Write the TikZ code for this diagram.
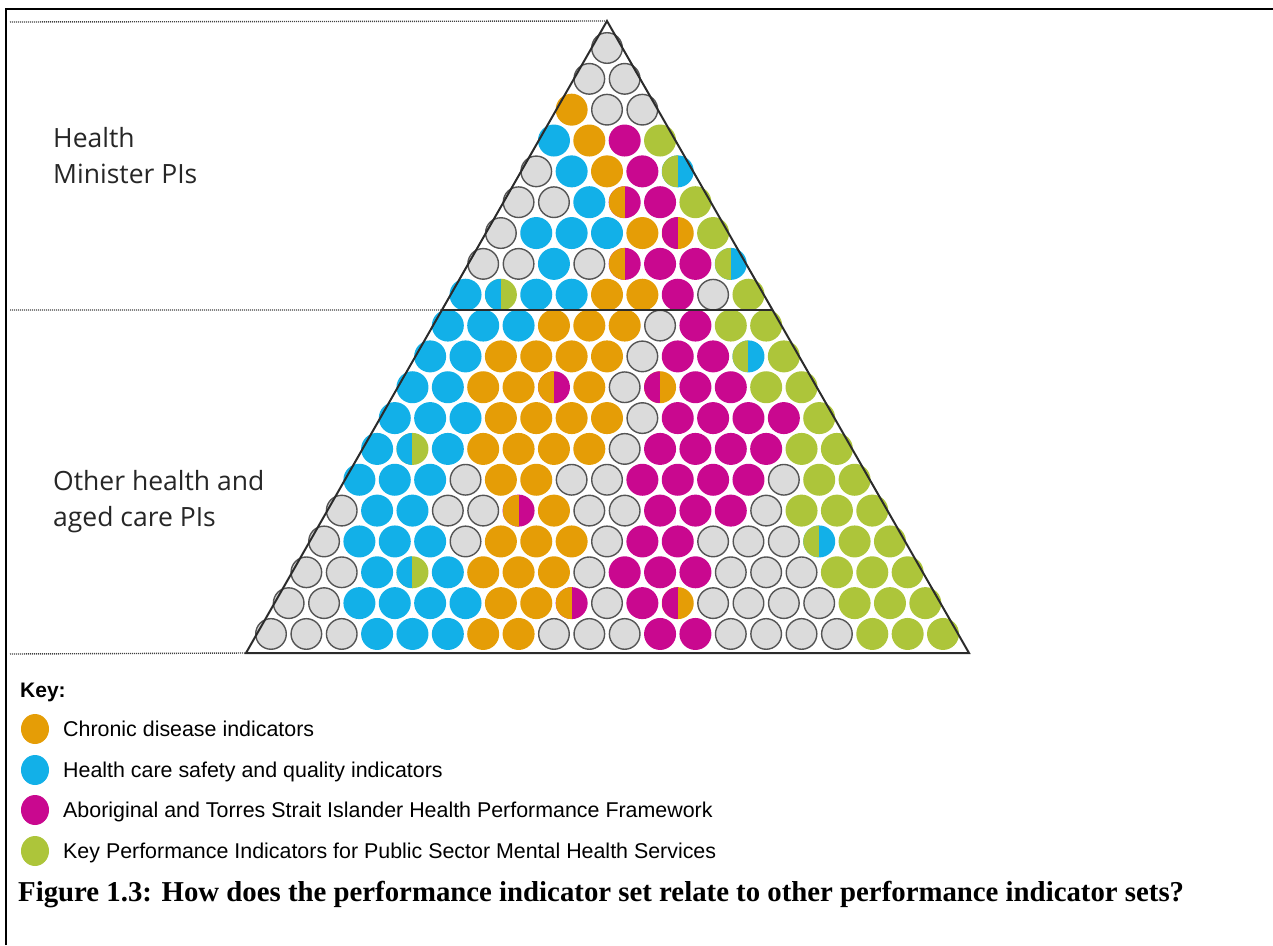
\documentclass[tikz,border=0pt]{standalone}
\usepackage{fontspec}
\setmainfont{Liberation Serif}
\newfontfamily\labelfont{Open Sans}
\newfontfamily\keyfont{Liberation Sans}
\usetikzlibrary{calc,shapes.geometric}

\definecolor{ciOrange}{HTML}{E59D06}
\definecolor{ciBlue}{HTML}{12B0E8}
\definecolor{ciMagenta}{HTML}{C9088F}
\definecolor{ciGreen}{HTML}{ADC53A}
\definecolor{ciGrey}{HTML}{DBDBDB}
\definecolor{ciEdge}{HTML}{555555}
\definecolor{ciLine}{HTML}{2B2B2B}

\tikzset{
  dot/.style={circle, inner sep=0pt, minimum size=32pt},
  dotG/.style={dot, fill=ciGrey, draw=ciEdge, line width=1.4pt, minimum size=30.6pt},
  dotO/.style={dot, fill=ciOrange},
  dotB/.style={dot, fill=ciBlue},
  dotM/.style={dot, fill=ciMagenta},
  dotL/.style={dot, fill=ciGreen},
  split/.style 2 args={dot, fill=#2, path picture={
      \fill[#1] (path picture bounding box.south west) rectangle (path picture bounding box.north);}},
  dotOM/.style={split={ciOrange}{ciMagenta}},
  dotMO/.style={split={ciMagenta}{ciOrange}},
  dotLB/.style={split={ciGreen}{ciBlue}},
  dotBL/.style={split={ciBlue}{ciGreen}},
  edge/.style={draw=ciLine, line width=2pt, line join=miter},
  guide/.style={draw=black!75, line width=1.4pt, dash pattern=on 1pt off 1pt},
  lbl/.style={font=\labelfont\fontsize{26.5}{31}\selectfont, text=black!85, inner sep=0pt, anchor=base west},
  keydot/.style={ellipse, inner sep=0pt, minimum width=28pt, minimum height=30pt},
  keytext/.style={font=\keyfont\fontsize{21.4}{25}\selectfont, inner sep=0pt, anchor=base west},
}

\begin{document}
\begin{tikzpicture}[x=1pt, y=-1pt]
\useasboundingbox (0,0) rectangle (1273,945);

% outer frame (left and top edges)
\coordinate (frameBL) at (6,945);
\coordinate (frameTL) at (6,9);
\coordinate (frameTR) at (1273,9);
\draw[line width=2pt] (frameBL) -- (frameTL) -- (frameTR);

% pyramid corners
\coordinate (apex) at (607,21);
\coordinate (bl) at (246,653);
\coordinate (br) at (969,653);
\coordinate (ml) at ($(apex)!0.4573!(bl)$);
\coordinate (mr) at ($(apex)!0.4573!(br)$);

% dotted level guides
\coordinate (gt) at (10,22);
\coordinate (gm) at (10,310);
\coordinate (gb) at (10,654);
\draw[guide] (gt) -- (apex);
\draw[guide] (gm) -- (ml);
\draw[guide] (gb) -- (bl);

% indicator dots, one row per list, top to bottom
\foreach \row [count=\rw] in {
  {G},
  {G,G},
  {O,G,G},
  {B,O,M,L},
  {G,B,O,M,LB},
  {G,G,B,OM,M,L},
  {G,B,B,B,O,MO,L},
  {G,G,B,G,OM,M,M,LB},
  {B,BL,B,B,O,O,M,G,L},
  {B,B,B,O,O,O,G,M,L,L},
  {B,B,O,O,O,O,G,M,M,LB,L},
  {B,B,O,O,OM,O,G,MO,M,M,L,L},
  {B,B,B,O,O,O,O,G,M,M,M,M,L},
  {B,BL,B,O,O,O,O,G,M,M,M,M,L,L},
  {B,B,B,G,O,O,G,G,M,M,M,M,G,L,L},
  {G,B,B,G,G,OM,O,G,G,M,M,M,G,L,L,L},
  {G,B,B,B,G,O,O,O,G,M,M,G,G,G,LB,L,L},
  {G,G,B,BL,B,O,O,O,G,M,M,M,G,G,G,L,L,L},
  {G,G,B,B,B,B,O,O,OM,G,M,MO,G,G,G,G,L,L,L},
  {G,G,G,B,B,B,O,O,G,G,G,M,M,G,G,G,G,L,L,L}} {
  \foreach \code [count=\ix] in \row {
    \pgfmathsetmacro\cx{607+(\ix-(\rw+1)/2)*35.37}
    \pgfmathsetmacro\cy{48+(\rw-1)*30.84}
    \edef\dotstyle{dot\code}
    \node[\dotstyle] (c-\rw-\ix) at (\cx,\cy) {};
  }
}

% pyramid outline and dividing line
\draw[edge] (apex) -- (br) -- (bl) -- cycle;
\draw[edge] (ml) -- (mr);

% level labels
\node[lbl] (hm1) at (53,147) {Health};
\node[lbl] (hm2) at (53,183) {Minister PIs};
\node[lbl] (oh1) at (53,490) {Other health and};
\node[lbl] (oh2) at (53,526) {aged care PIs};

% key
\node[keytext, font=\keyfont\bfseries\fontsize{21}{25}\selectfont] (keyhead) at (20,697) {Key:};
\node[keydot, fill=ciOrange]  (k1) at (35,729) {};
\node[keydot, fill=ciBlue]    (k2) at (35,770) {};
\node[keydot, fill=ciMagenta] (k3) at (35,810) {};
\node[keydot, fill=ciGreen]   (k4) at (35,851) {};
\node[keytext] (t1) at (63,736.5) {Chronic disease indicators};
\node[keytext] (t2) at (63,777.5) {Health care safety and quality indicators};
\node[keytext] (t3) at (63,817.5) {Aboriginal and Torres Strait Islander Health Performance Framework};
\node[keytext] (t4) at (63,858.5) {Key Performance Indicators for Public Sector Mental Health Services};

% caption
\node[inner sep=0pt, anchor=base west, font=\bfseries\fontsize{28.8}{34}\selectfont] (caption) at (18,901)
  {Figure 1.3: How does the performance indicator set relate to other performance indicator sets?};
\end{tikzpicture}
\end{document}
